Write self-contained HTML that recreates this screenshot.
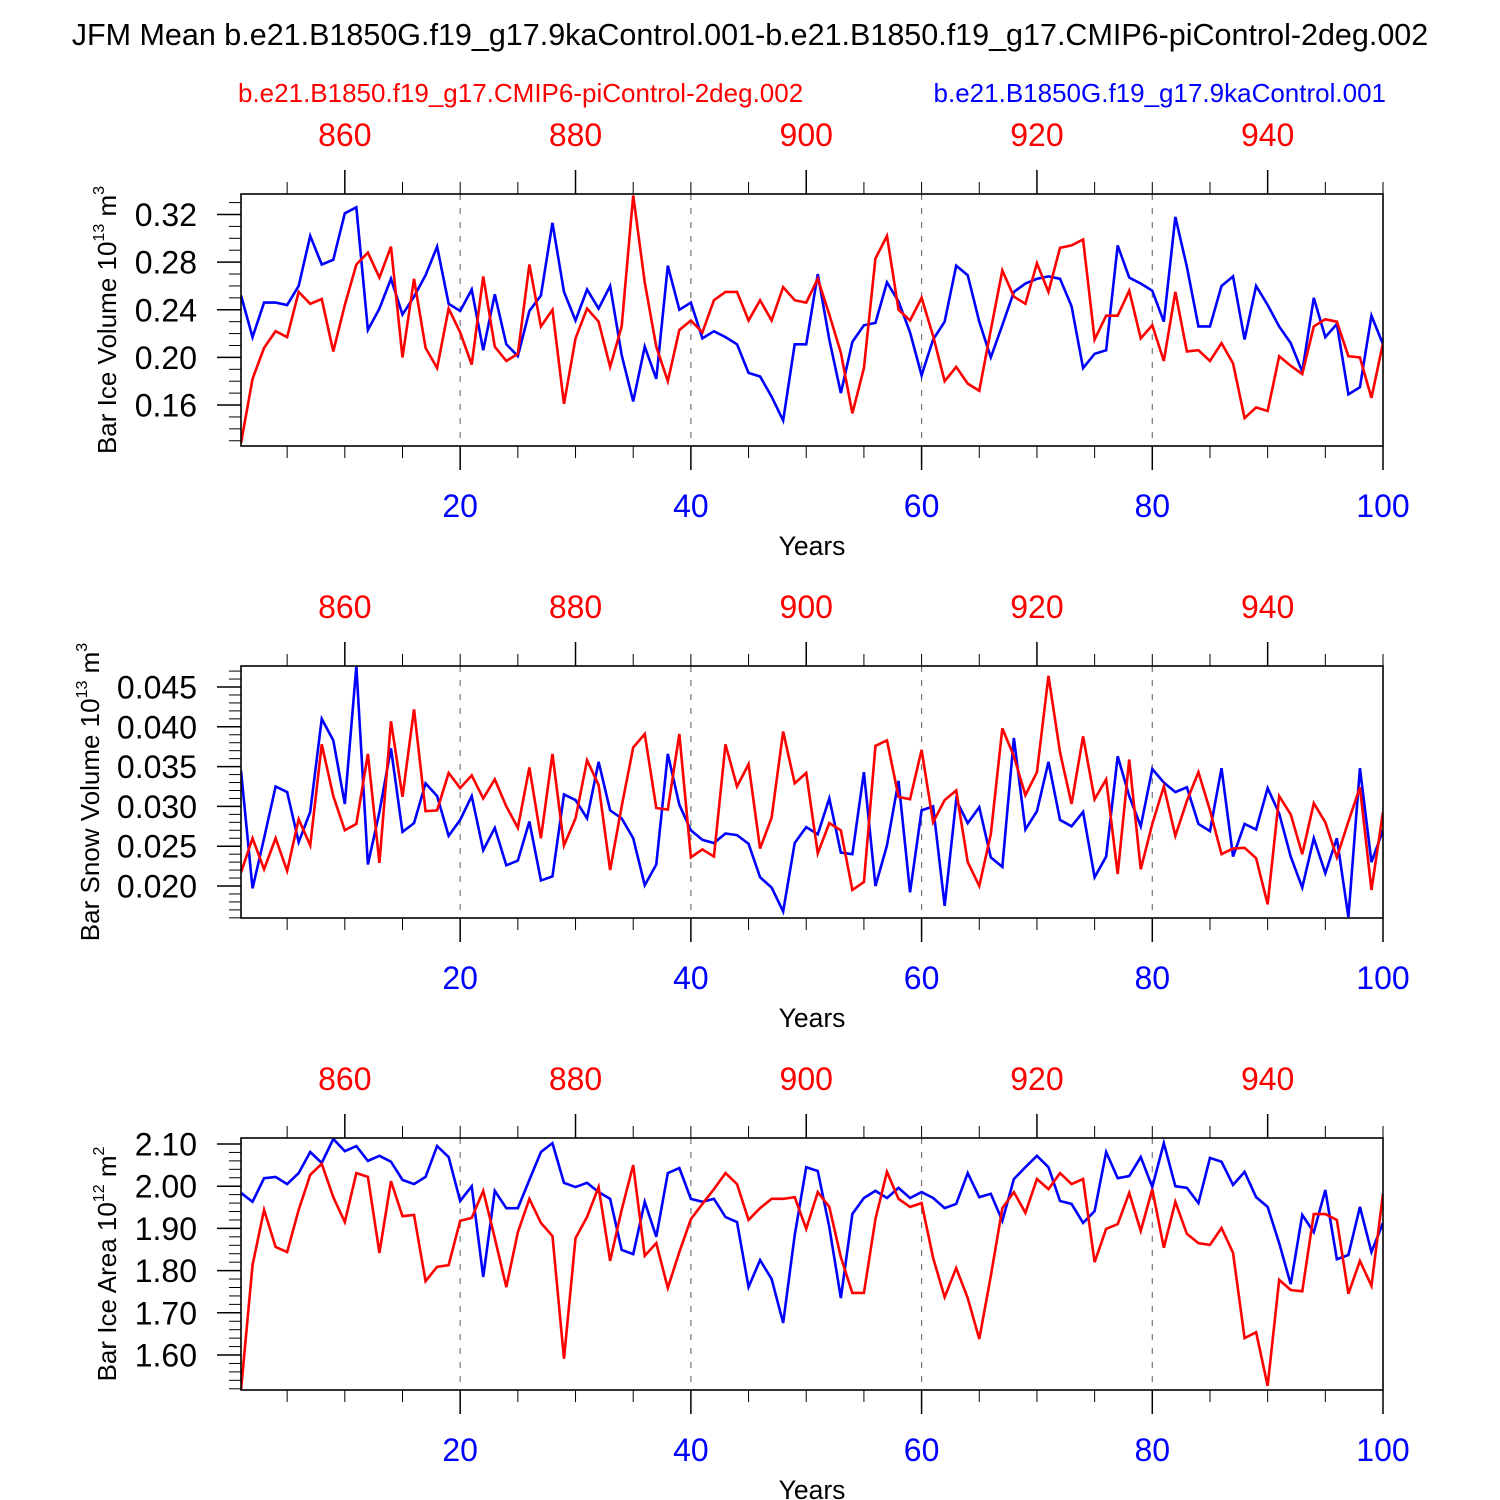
<!DOCTYPE html>
<html><head><meta charset="utf-8">
<style>
html,body{margin:0;padding:0;background:#fff;}
svg{display:block;font-family:"Liberation Sans",Arial,sans-serif;}
</style></head>
<body>
<svg id="chart" width="1500" height="1500" viewBox="0 0 1500 1500" xmlns="http://www.w3.org/2000/svg">
<rect x="0" y="0" width="1500" height="1500" fill="#fff"/>
<text x="750" y="45" font-size="30.5" text-anchor="middle" fill="#000">JFM Mean b.e21.B1850G.f19_g17.9kaControl.001-b.e21.B1850.f19_g17.CMIP6-piControl-2deg.002</text>
<text x="238" y="102" font-size="26" fill="#ff0000">b.e21.B1850.f19_g17.CMIP6-piControl-2deg.002</text>
<text x="1386" y="102" font-size="26" text-anchor="end" fill="#0000ff">b.e21.B1850G.f19_g17.9kaControl.001</text>
<g id="plots"></g>
</svg>
<script>
const years = Array.from({length:100},(_,i)=>i+1);
const iceVolBlue = [0.252,0.217,0.246,0.246,0.244,0.260,0.302,0.278,0.282,0.321,0.326,0.223,0.241,0.266,0.236,0.251,0.269,0.293,0.245,0.239,0.257,0.206,0.253,0.211,0.201,0.239,0.252,0.313,0.255,0.231,0.257,0.241,0.260,0.202,0.163,0.209,0.182,0.277,0.240,0.246,0.216,0.222,0.217,0.211,0.187,0.184,0.167,0.147,0.211,0.211,0.270,0.215,0.170,0.213,0.227,0.229,0.263,0.247,0.221,0.185,0.215,0.230,0.277,0.269,0.230,0.200,0.227,0.255,0.262,0.266,0.268,0.266,0.243,0.191,0.203,0.206,0.294,0.267,0.262,0.256,0.230,0.318,0.276,0.226,0.226,0.260,0.268,0.215,0.260,0.244,0.226,0.212,0.188,0.250,0.217,0.228,0.169,0.175,0.235,0.211];
const iceVolRed = [0.128,0.182,0.208,0.222,0.217,0.255,0.245,0.249,0.205,0.244,0.278,0.288,0.267,0.293,0.200,0.266,0.208,0.191,0.241,0.221,0.194,0.268,0.209,0.197,0.203,0.278,0.226,0.240,0.161,0.216,0.241,0.230,0.192,0.226,0.336,0.263,0.209,0.180,0.223,0.231,0.221,0.248,0.255,0.255,0.231,0.248,0.231,0.259,0.248,0.246,0.266,0.236,0.204,0.153,0.191,0.283,0.302,0.240,0.231,0.250,0.218,0.180,0.192,0.178,0.172,0.223,0.273,0.251,0.245,0.279,0.255,0.292,0.294,0.299,0.215,0.235,0.235,0.256,0.216,0.227,0.197,0.255,0.205,0.206,0.197,0.212,0.195,0.149,0.158,0.155,0.201,0.193,0.186,0.226,0.232,0.230,0.201,0.200,0.166,0.212];
const snowVolBlue = [0.0345,0.0197,0.0260,0.0325,0.0318,0.0255,0.0293,0.0410,0.0383,0.0303,0.0476,0.0227,0.0293,0.0373,0.0268,0.0279,0.0329,0.0313,0.0263,0.0283,0.0313,0.0245,0.0273,0.0226,0.0232,0.0281,0.0207,0.0212,0.0315,0.0308,0.0285,0.0356,0.0295,0.0285,0.0260,0.0201,0.0227,0.0366,0.0302,0.0270,0.0258,0.0254,0.0266,0.0264,0.0253,0.0211,0.0198,0.0168,0.0254,0.0274,0.0265,0.0310,0.0242,0.0240,0.0343,0.0200,0.0251,0.0332,0.0192,0.0295,0.0300,0.0175,0.0308,0.0279,0.0299,0.0236,0.0224,0.0386,0.0271,0.0294,0.0356,0.0283,0.0275,0.0293,0.0211,0.0237,0.0363,0.0313,0.0275,0.0347,0.0330,0.0318,0.0324,0.0278,0.0269,0.0348,0.0237,0.0278,0.0271,0.0323,0.0291,0.0237,0.0198,0.0260,0.0216,0.0260,0.0161,0.0348,0.0230,0.0270];
const snowVolRed = [0.0217,0.0260,0.0221,0.0260,0.0219,0.0284,0.0251,0.0378,0.0313,0.0270,0.0278,0.0366,0.0229,0.0407,0.0312,0.0422,0.0294,0.0295,0.0342,0.0323,0.0339,0.0310,0.0334,0.0300,0.0273,0.0349,0.0260,0.0366,0.0251,0.0285,0.0358,0.0327,0.0220,0.0300,0.0374,0.0391,0.0298,0.0296,0.0391,0.0236,0.0246,0.0237,0.0378,0.0325,0.0353,0.0247,0.0286,0.0394,0.0329,0.0342,0.0241,0.0279,0.0270,0.0195,0.0205,0.0376,0.0383,0.0312,0.0309,0.0371,0.0280,0.0308,0.0320,0.0230,0.0200,0.0265,0.0398,0.0363,0.0314,0.0343,0.0464,0.0368,0.0303,0.0388,0.0309,0.0334,0.0215,0.0359,0.0221,0.0278,0.0325,0.0263,0.0307,0.0343,0.0295,0.0240,0.0247,0.0248,0.0235,0.0177,0.0313,0.0290,0.0240,0.0304,0.0280,0.0236,0.0281,0.0324,0.0195,0.0293];
const iceAreaBlue = [1.984,1.963,2.019,2.022,2.005,2.031,2.081,2.055,2.112,2.083,2.095,2.060,2.072,2.058,2.015,2.005,2.022,2.095,2.069,1.965,2.000,1.785,1.989,1.948,1.948,2.015,2.081,2.102,2.008,1.998,2.008,1.986,1.970,1.849,1.839,1.963,1.880,2.031,2.043,1.970,1.963,1.970,1.927,1.915,1.761,1.825,1.780,1.676,1.884,2.045,2.036,1.903,1.735,1.934,1.972,1.989,1.972,1.996,1.972,1.986,1.972,1.948,1.958,2.031,1.974,1.982,1.918,2.017,2.045,2.072,2.045,1.965,1.958,1.913,1.941,2.081,2.019,2.024,2.069,1.998,2.102,2.000,1.996,1.960,2.067,2.058,2.003,2.034,1.974,1.951,1.865,1.768,1.932,1.891,1.991,1.827,1.837,1.951,1.844,1.913];
const iceAreaRed = [1.517,1.813,1.944,1.856,1.844,1.944,2.027,2.053,1.974,1.915,2.031,2.022,1.842,2.012,1.929,1.932,1.775,1.809,1.813,1.918,1.925,1.989,1.877,1.761,1.891,1.970,1.913,1.882,1.591,1.877,1.927,1.998,1.823,1.944,2.050,1.835,1.865,1.759,1.844,1.922,1.958,1.993,2.031,2.005,1.920,1.948,1.970,1.970,1.974,1.899,1.986,1.951,1.832,1.747,1.747,1.922,2.034,1.970,1.951,1.960,1.830,1.737,1.806,1.735,1.638,1.787,1.948,1.986,1.937,2.017,1.993,2.031,2.005,2.017,1.820,1.899,1.910,1.984,1.894,1.993,1.854,1.963,1.887,1.865,1.861,1.901,1.842,1.640,1.654,1.527,1.778,1.754,1.751,1.934,1.934,1.920,1.745,1.823,1.764,1.982];
const bottomTickLabels = [20,40,60,80,100];
const topTickLabels = [860,880,900,920,940];
const yearOffset = 850;

const NS = "http://www.w3.org/2000/svg";
const root = document.getElementById('plots');
function mk(tag, attrs, parent){
  const e = document.createElementNS(NS, tag);
  for (const k in attrs) e.setAttribute(k, attrs[k]);
  (parent||root).appendChild(e);
  return e;
}
const X0 = 241, X1 = 1383;
function xScale(yr){ return X0 + (yr-1)*(X1-X0)/99; }

const panels = [
  {name:'ice-volume', top:194, ymin:0.1256, ymax:0.3372, majors:[0.16,0.20,0.24,0.28,0.32], minorStep:0.01, dec:2, blue:iceVolBlue, red:iceVolRed, title:['Bar Ice Volume 10','13',' m','3'], tx:116},
  {name:'snow-volume', top:666, ymin:0.01598, ymax:0.04764, majors:[0.020,0.025,0.030,0.035,0.040,0.045], minorStep:0.001, dec:3, blue:snowVolBlue, red:snowVolRed, title:['Bar Snow Volume 10','13',' m','3'], tx:99},
  {name:'ice-area', top:1138, ymin:1.5171, ymax:2.1142, majors:[1.6,1.7,1.8,1.9,2.0,2.1], minorStep:0.02, dec:2, blue:iceAreaBlue, red:iceAreaRed, title:['Bar Ice Area 10','12',' m','2'], tx:116}
];

panels.forEach(p=>{
  const T = p.top, B = p.top+252;
  const yS = v => B - (v-p.ymin)/(p.ymax-p.ymin)*(B-T);
  const g = mk('g', {});
  
  
  bottomTickLabels.slice(0,4).forEach(yr=>{
    const l = mk('line', {x1:xScale(yr), x2:xScale(yr), y1:T, y2:B, stroke:'#777', 'stroke-width':1.2, 'stroke-dasharray':'6,8'}, g);
    
    
  });
  const nMin = Math.ceil(p.ymin/p.minorStep), nMax = Math.floor(p.ymax/p.minorStep);
  for (let k=nMin;k<=nMax;k++){
    const v = k*p.minorStep, y = yS(v);
    const isMaj = p.majors.some(m=>Math.abs(m-v)<p.minorStep/10);
    const t = mk('line', {x1:X0-(isMaj?24:12), x2:X0, y1:y, y2:y, stroke:'#000', 'stroke-width':isMaj?1.5:1}, g);
    
    
  }
  p.majors.forEach(v=>{
    const t = mk('text', {x:X0-44, y:yS(v)+11.5, 'font-size':32, 'text-anchor':'end', fill:'#000'}, g);
    t.textContent = v.toFixed(p.dec);
    
    
  });
  for (let yr=5; yr<=100; yr+=5){
    const x = xScale(yr), maj = yr%20===0;
    const tb = mk('line', {x1:x, x2:x, y1:B, y2:B+(maj?24:12), stroke:'#000', 'stroke-width':maj?1.5:1}, g);
    
    
  }
  for (let ty=855; ty<=950; ty+=5){
    const x = xScale(ty-yearOffset), maj = ty%20===0;
    const tt = mk('line', {x1:x, x2:x, y1:T, y2:T-(maj?24:12), stroke:'#000', 'stroke-width':maj?1.5:1}, g);
    
    
  }
  bottomTickLabels.forEach(yr=>{
    const t = mk('text', {x:xScale(yr), y:B+71, 'font-size':32, 'text-anchor':'middle', fill:'#0000ff'}, g);
    t.textContent = yr;
    
    
  });
  topTickLabels.forEach(ty=>{
    const t = mk('text', {x:xScale(ty-yearOffset), y:T-48, 'font-size':32, 'text-anchor':'middle', fill:'#ff0000'}, g);
    t.textContent = ty;
    
    
  });
  const xt = mk('text', {x:812, y:B+109, 'font-size':26.5, 'text-anchor':'middle', fill:'#000'}, g);
  xt.textContent = 'Years';
  
  
  const yt = mk('text', {x:0, y:0, 'font-size':26, 'text-anchor':'middle', fill:'#000', transform:`translate(${p.tx},${(T+B)/2}) rotate(-90)`}, g);
  
  
  const s1 = mk('tspan', {}, yt); s1.textContent = p.title[0];
  const s2 = mk('tspan', {dy:-12, 'font-size':16}, yt); s2.textContent = p.title[1];
  const s3 = mk('tspan', {dy:12}, yt); s3.textContent = p.title[2];
  const s4 = mk('tspan', {dy:-12, 'font-size':16}, yt); s4.textContent = p.title[3];
  const cid = 'clip-'+p.name;
  const cp = mk('clipPath', {id:cid}, g);
  mk('rect', {x:X0, y:T, width:X1-X0, height:B-T}, cp);
  [['blue',p.blue,'#0000ff'],['red',p.red,'#ff0000']].forEach(([nm,arr,col])=>{
    const d = arr.map((v,i)=>(i?'L':'M')+xScale(years[i]).toFixed(2)+','+yS(v).toFixed(2)).join(' ');
    const path = mk('path', {d:d, fill:'none', stroke:col, 'stroke-width':2.6, 'stroke-linejoin':'miter', 'clip-path':`url(#${cid})`}, g);
    
    
  });
  const box = mk('rect', {x:X0, y:T, width:X1-X0, height:B-T, fill:'none', stroke:'#000', 'stroke-width':1.6}, g);
  
  
});
</script>
</body></html>
